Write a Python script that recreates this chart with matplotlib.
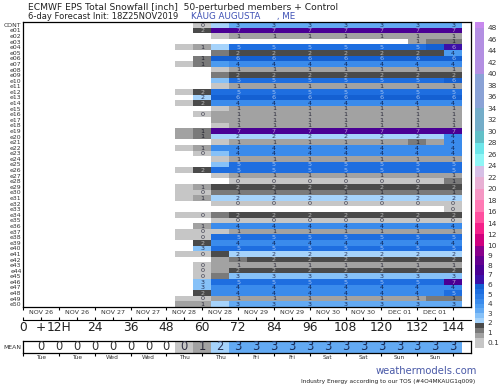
import numpy as np
import matplotlib
matplotlib.use("Agg")
import matplotlib.pyplot as plt
from matplotlib.colors import ListedColormap, BoundaryNorm

# ---------------- data ----------------
title1 = "ECMWF EPS Total Snowfall [inch]  50-perturbed members + Control"
title2 = "6-day Forecast Init: 18Z25NOV2019"
station = "KAUG AUGUSTA      , ME"

members = ["CONT"] + ["e%02d" % i for i in range(1, 51)]

# forecast hours of the columns that hold snow (6h..48h are all zero)
hours = [54, 60, 66, 72, 78, 84, 90, 96, 102, 108, 114, 120, 126, 132, 138, 144]

snow = [
    # 54   60   66   72   78   84   90   96  102  108  114  120  126  132  138  144
    [0.0, 0.4, 2.2, 3.2, 3.2, 3.2, 3.2, 3.2, 3.2, 3.2, 3.2, 3.2, 3.2, 3.2, 3.2, 3.2],  # CONT
    [0.0, 1.8, 7.2, 7.2, 7.2, 7.2, 7.2, 7.2, 7.2, 7.2, 7.2, 7.2, 7.2, 7.2, 7.2, 7.2],  # e01
    [0.0, 0.0, 0.3, 0.8, 0.8, 0.8, 0.8, 0.8, 0.8, 0.8, 0.8, 0.8, 0.8, 0.8, 0.8, 0.8],  # e02
    [0.0, 0.0, 0.0, 0.0, 0.0, 0.0, 0.0, 0.0, 0.0, 0.0, 0.0, 0.0, 0.0, 0.8, 1.2, 1.2],  # e03
    [0.3, 0.8, 2.2, 5.2, 5.2, 5.2, 5.2, 5.2, 5.2, 5.2, 5.2, 5.2, 5.2, 5.2, 5.8, 6.3],  # e04
    [0.0, 0.0, 1.2, 1.8, 1.8, 1.8, 1.8, 1.8, 1.8, 1.8, 1.8, 1.8, 1.8, 1.8, 1.8, 3.8],  # e05
    [0.0, 1.4, 5.8, 5.8, 5.8, 5.8, 5.8, 5.8, 5.8, 5.8, 5.8, 5.8, 5.8, 5.8, 5.8, 5.8],  # e06
    [0.3, 1.4, 3.8, 4.2, 4.2, 4.2, 4.2, 4.2, 4.2, 4.2, 4.2, 4.2, 4.2, 4.2, 4.2, 4.2],  # e07
    [0.0, 0.0, 0.3, 0.8, 0.8, 0.8, 0.8, 0.8, 0.8, 0.8, 0.8, 0.8, 0.8, 0.8, 0.8, 0.8],  # e08
    [0.0, 0.0, 1.2, 1.8, 1.8, 1.8, 1.8, 1.8, 1.8, 1.8, 1.8, 1.8, 1.8, 1.8, 1.8, 1.8],  # e09
    [0.0, 0.0, 2.7, 5.2, 5.2, 5.2, 5.2, 5.2, 5.2, 5.2, 5.2, 5.2, 5.2, 5.2, 5.2, 5.8],  # e10
    [0.0, 0.0, 0.3, 0.8, 0.8, 0.8, 0.8, 0.8, 0.8, 0.8, 0.8, 0.8, 0.8, 0.8, 0.8, 0.8],  # e11
    [0.3, 1.8, 5.2, 5.2, 5.2, 5.2, 5.2, 5.2, 5.2, 5.2, 5.2, 5.2, 5.2, 5.2, 5.2, 5.2],  # e12
    [0.0, 2.2, 5.8, 5.8, 5.8, 5.8, 5.8, 5.8, 5.8, 5.8, 5.8, 5.8, 5.8, 5.8, 5.8, 5.8],  # e13
    [0.3, 1.8, 4.2, 4.2, 4.2, 4.2, 4.2, 4.2, 4.2, 4.2, 4.2, 4.2, 4.2, 4.2, 4.2, 4.2],  # e14
    [0.0, 0.0, 0.3, 0.8, 0.8, 0.8, 0.8, 0.8, 0.8, 0.8, 0.8, 0.8, 0.8, 0.8, 0.8, 0.8],  # e15
    [0.0, 0.3, 0.8, 0.8, 0.8, 0.8, 0.8, 0.8, 0.8, 0.8, 0.8, 0.8, 0.8, 0.8, 0.8, 0.8],  # e16
    [0.0, 0.0, 0.8, 0.8, 0.8, 0.8, 0.8, 0.8, 0.8, 0.8, 0.8, 0.8, 0.8, 0.8, 0.8, 0.8],  # e17
    [0.0, 0.0, 0.3, 0.8, 0.8, 0.8, 0.8, 0.8, 0.8, 0.8, 0.8, 0.8, 0.8, 0.8, 0.8, 0.8],  # e18
    [0.8, 1.2, 7.2, 7.2, 7.2, 7.2, 7.2, 7.2, 7.2, 7.2, 7.2, 7.2, 7.2, 7.2, 7.2, 7.2],  # e19
    [0.8, 1.2, 2.2, 2.2, 2.2, 2.2, 2.2, 2.2, 2.2, 2.2, 2.2, 2.2, 2.2, 2.2, 2.2, 4.2],  # e20
    [0.0, 0.0, 0.3, 0.8, 0.8, 0.8, 0.8, 0.8, 0.8, 0.8, 0.8, 0.8, 0.8, 1.2, 0.8, 4.2],  # e21
    [0.3, 0.8, 4.2, 4.2, 4.2, 4.2, 4.2, 4.2, 4.2, 4.2, 4.2, 4.2, 4.2, 4.2, 4.2, 4.2],  # e22
    [0.0, 0.3, 2.7, 4.2, 4.2, 4.2, 4.2, 4.2, 4.2, 4.2, 4.2, 4.2, 4.2, 4.2, 4.2, 4.2],  # e23
    [0.0, 0.0, 0.3, 0.8, 0.8, 0.8, 0.8, 0.8, 0.8, 0.8, 0.8, 0.8, 0.8, 0.8, 0.8, 0.8],  # e24
    [0.0, 0.0, 2.7, 5.2, 5.2, 5.2, 5.2, 5.2, 5.2, 5.2, 5.2, 5.2, 5.2, 5.2, 5.2, 5.2],  # e25
    [0.3, 1.8, 5.2, 5.2, 5.2, 5.2, 5.2, 5.2, 5.2, 5.2, 5.2, 5.2, 5.2, 5.2, 5.2, 5.2],  # e26
    [0.0, 0.0, 0.3, 0.8, 0.8, 0.8, 0.8, 0.8, 0.8, 0.8, 0.8, 0.8, 0.8, 0.8, 0.8, 0.8],  # e27
    [0.0, 0.0, 0.0, 0.3, 0.3, 0.3, 0.3, 0.3, 0.3, 0.3, 0.3, 0.3, 0.3, 0.3, 0.3, 1.2],  # e28
    [0.3, 0.8, 1.8, 1.8, 1.8, 1.8, 1.8, 1.8, 1.8, 1.8, 1.8, 1.8, 1.8, 1.8, 1.8, 1.8],  # e29
    [0.3, 0.3, 1.2, 1.2, 1.2, 1.2, 1.2, 1.2, 1.2, 1.2, 1.2, 1.2, 1.2, 1.2, 1.2, 1.2],  # e30
    [0.3, 0.8, 2.2, 2.2, 2.2, 2.2, 2.2, 2.2, 2.2, 2.2, 2.2, 2.2, 2.2, 2.2, 2.2, 2.2],  # e31
    [0.0, 0.0, 0.3, 0.3, 0.3, 0.3, 0.3, 0.3, 0.3, 0.3, 0.3, 0.3, 0.3, 0.3, 0.3, 0.3],  # e32
    [0.0, 0.0, 0.0, 0.0, 0.0, 0.0, 0.0, 0.0, 0.0, 0.0, 0.0, 0.0, 0.0, 0.0, 0.0, 0.3],  # e33
    [0.3, 0.3, 1.2, 1.8, 1.8, 1.8, 1.8, 1.8, 1.8, 1.8, 1.8, 1.8, 1.8, 1.8, 1.8, 1.8],  # e34
    [0.0, 0.0, 0.3, 0.3, 0.3, 0.3, 0.3, 0.3, 0.3, 0.3, 0.3, 0.3, 0.3, 0.3, 0.3, 0.3],  # e35
    [0.0, 0.8, 4.2, 4.2, 4.2, 4.2, 4.2, 4.2, 4.2, 4.2, 4.2, 4.2, 4.2, 4.2, 4.2, 4.2],  # e36
    [0.3, 0.3, 0.3, 0.8, 0.8, 0.8, 0.8, 0.8, 0.8, 0.8, 0.8, 0.8, 0.8, 0.8, 0.8, 0.8],  # e37
    [0.3, 0.3, 5.2, 5.2, 5.2, 5.2, 5.2, 5.2, 5.2, 5.2, 5.2, 5.2, 5.2, 5.2, 5.2, 5.2],  # e38
    [0.0, 1.8, 4.2, 4.2, 4.2, 4.2, 4.2, 4.2, 4.2, 4.2, 4.2, 4.2, 4.2, 4.2, 4.2, 4.2],  # e39
    [0.0, 2.7, 5.2, 5.2, 5.2, 5.2, 5.2, 5.2, 5.2, 5.2, 5.2, 5.2, 5.2, 5.2, 5.2, 5.2],  # e40
    [0.3, 0.3, 1.8, 2.2, 2.2, 2.2, 2.2, 2.2, 2.2, 2.2, 2.2, 2.2, 2.2, 2.2, 2.2, 2.2],  # e41
    [0.0, 0.0, 0.8, 1.2, 1.8, 1.8, 1.8, 1.8, 1.8, 1.8, 1.8, 1.8, 1.8, 1.8, 1.8, 1.8],  # e42
    [0.0, 0.3, 0.8, 0.8, 0.8, 0.8, 0.8, 0.8, 0.8, 0.8, 0.8, 0.8, 0.8, 0.8, 0.8, 0.8],  # e43
    [0.0, 0.3, 0.8, 1.8, 1.8, 1.8, 1.8, 1.8, 1.8, 1.8, 1.8, 1.8, 1.8, 1.8, 1.8, 1.8],  # e44
    [0.0, 0.3, 1.2, 2.7, 2.7, 2.7, 2.7, 2.7, 2.7, 2.7, 2.7, 2.7, 2.7, 2.7, 2.7, 2.7],  # e45
    [0.0, 2.7, 5.2, 5.2, 5.2, 5.2, 5.2, 5.2, 5.2, 5.2, 5.2, 5.2, 5.2, 5.2, 5.2, 7.2],  # e46
    [0.0, 2.7, 4.2, 4.2, 4.2, 4.2, 4.2, 4.2, 4.2, 4.2, 4.2, 4.2, 4.2, 4.2, 4.2, 4.2],  # e47
    [0.0, 1.8, 4.2, 4.2, 4.2, 4.2, 4.2, 4.2, 4.2, 4.2, 4.2, 4.2, 4.2, 4.2, 4.2, 5.2],  # e48
    [0.3, 0.3, 0.8, 0.8, 0.8, 0.8, 0.8, 0.8, 0.8, 0.8, 0.8, 0.8, 0.8, 0.8, 1.2, 1.2],  # e49
    [0.8, 0.8, 2.2, 3.2, 3.2, 3.2, 3.2, 3.2, 3.2, 3.2, 3.2, 3.2, 3.2, 3.2, 3.2, 3.2],  # e50
]

mean_hours = [6, 12, 18, 24, 30, 36, 42, 48, 54, 60, 66, 72, 78, 84, 90, 96,
              102, 108, 114, 120, 126, 132, 138, 144]
mean_vals = [0, 0, 0, 0, 0, 0, 0, 0, 0.3, 0.8, 2.2, 3.2, 3.2, 3.2, 3.2, 3.2,
             3.2, 3.2, 3.2, 3.2, 3.2, 3.2, 3.2, 3.2]

date_labels = ["NOV 26", "NOV 26", "NOV 27", "NOV 27", "NOV 28", "NOV 28",
               "NOV 29", "NOV 29", "NOV 30", "NOV 30", "DEC 01", "DEC 01"]
day_labels = ["Tue", "Tue", "Wed", "Wed", "Thu", "Thu",
              "Fri", "Fri", "Sat", "Sat", "Sun", "Sun"]
hour_labels = ["0", "+", "12H", "", "24", "", "36", "", "48", "", "60", "", "72", "",
               "84", "", "96", "", "108", "", "120", "", "132", "", "144"]

levels = [0.1, 0.5, 1, 1.5, 2, 2.5, 3, 3.5, 4, 4.5, 5, 5.5, 6, 7, 8, 9, 10,
          12, 14, 16, 18, 20, 22, 24, 26, 28, 30, 34, 40, 48, 50]
colors = ["#c6c6c6", "#a2a2a2", "#7a7a7a", "#4a4a4a",
          "#a6d3fb", "#86c1f8", "#63aaf3", "#4b9bf0", "#3a8bec", "#2c7ce6", "#1e6ee0", "#1460d2",
          "#3c10a8", "#4a0094", "#640090", "#8a008c",
          "#d0007e", "#f5208a", "#ff4f9f", "#ff7ab4", "#f597c4", "#e8b0d4", "#d6c0e6",
          "#8ff6f6", "#6de6ea", "#62c0c8",
          "#74adc9", "#8aa2d6", "#b38fe2", "#c889ee"]
cbar_ticks = [0.1, 1, 2, 3, 4, 5, 6, 7, 8, 9, 10, 12, 14, 16, 18, 20, 22, 24, 26,
              28, 30, 32, 34, 36, 38, 40, 42, 44, 46, 48]

# ---------------- helpers ----------------
cmap = ListedColormap(colors)
norm = BoundaryNorm(levels, cmap.N)
W, H = 500.0, 385.0


def rect(x0, y0, x1, y1):
    return [x0 / W, 1 - y1 / H, (x1 - x0) / W, (y1 - y0) / H]


def text_color(v):
    r, g, b = cmap(norm(v))[:3]
    lum = 0.299 * r + 0.587 * g + 0.114 * b
    if lum < 0.45:
        return (r + (1 - r) * 0.6, g + (1 - g) * 0.6, b + (1 - b) * 0.6)
    return (r * 0.25, g * 0.25, b * 0.35)


def label_of(v):
    return str(int(np.floor(v + 0.5)))


fig = plt.figure(figsize=(5, 3.85), dpi=100)

# ---------------- main grid ----------------
ax = fig.add_axes(rect(23, 22, 471, 307))
data = np.ma.masked_less(np.array(snow, dtype=float), 0.1)
xe = np.concatenate([np.array(hours) - 3, [hours[-1] + 3]])
ye = np.arange(len(members) + 1)
ax.pcolormesh(xe, ye, data, cmap=cmap, norm=norm)
ax.set_xlim(0, 150)
ax.set_ylim(len(members), 0)
for i, row in enumerate(snow):
    for h, v in zip(hours, row):
        if h % 12 == 0 and v >= 0.1:
            ax.text(h, i + 0.55, label_of(v), ha="center", va="center",
                    fontsize=4.6, color=text_color(v))
ax.set_yticks(np.arange(len(members)) + 0.5)
ax.set_yticklabels(members, fontsize=4.4, color="#333333")
ax.tick_params(axis="y", length=0, pad=1)
ax.set_xticks(np.arange(0, 145, 12))
ax.set_xticklabels([])
ax.set_xticks(np.arange(6, 139, 12), minor=True)
ax.set_xticklabels(date_labels, minor=True, fontsize=4.6, color="#333333")
ax.tick_params(axis="x", which="major", length=2.5, width=0.8, direction="out")
ax.tick_params(axis="x", which="minor", length=0, pad=2)
for s in ax.spines.values():
    s.set_linewidth(0.9)

# ---------------- hour axis ----------------
axh = fig.add_axes(rect(23, 314, 471, 320))
axh.set_xlim(0, 150)
axh.set_ylim(0, 1)
axh.set_yticks([])
for k in ["top", "left", "right"]:
    axh.spines[k].set_visible(False)
axh.spines["bottom"].set_linewidth(0.8)
axh.set_xticks(np.arange(0, 145, 6))
axh.set_xticklabels(hour_labels, fontsize=8.8, color="#222222")
axh.tick_params(axis="x", direction="in", length=2.5, width=0.8, pad=1)
axh.patch.set_alpha(0)

# ---------------- mean row ----------------
axm = fig.add_axes(rect(23, 341, 471, 353))
mdata = np.ma.masked_less(np.array([mean_vals], dtype=float), 0.1)
mxe = np.concatenate([np.array(mean_hours) - 3, [mean_hours[-1] + 3]])
axm.pcolormesh(mxe, [0, 1], mdata, cmap=cmap, norm=norm)
axm.set_xlim(0, 150)
axm.set_ylim(0, 1)
for h, v in zip(mean_hours, mean_vals):
    c = text_color(v) if v >= 0.1 else "#333333"
    axm.text(h, 0.5, label_of(v), ha="center", va="center", fontsize=8.3, color=c)
axm.set_yticks([0.5])
axm.set_yticklabels(["MEAN"], fontsize=4.4, color="#333333")
axm.tick_params(axis="y", length=0, pad=1)
axm.set_xticks(np.arange(0, 145, 12))
axm.set_xticklabels([])
axm.set_xticks(np.arange(6, 139, 12), minor=True)
axm.set_xticklabels(day_labels, minor=True, fontsize=4.2, color="#333333")
axm.tick_params(axis="x", which="major", length=2, width=0.8)
axm.tick_params(axis="x", which="minor", length=0, pad=1.5)
for s in axm.spines.values():
    s.set_linewidth(0.9)

# ---------------- colour bar ----------------
axc = fig.add_axes(rect(475, 22, 484, 348))
tick_pos = np.concatenate([0.018 + np.arange(11) * (0.313 - 0.018) / 10,
                           0.313 + np.arange(1, 20) * (0.982 - 0.313) / 19])
edges = np.interp(levels, cbar_ticks, tick_pos)
edges[0] = 0.0
edges[-1] = 1.0
axc.bar(np.zeros(len(colors)), np.diff(edges), bottom=edges[:-1], width=1.0,
        color=colors, align="center", linewidth=0)
axc.set_xlim(-0.5, 0.5)
axc.set_ylim(0, 1)
axc.set_xticks([])
axc.yaxis.tick_right()
axc.set_yticks(tick_pos)
axc.set_yticklabels([("%g" % t) for t in cbar_ticks], fontsize=5.3, color="#333333")
axc.tick_params(axis="y", length=0, pad=2.5)
for s in axc.spines.values():
    s.set_visible(False)

# ---------------- texts ----------------
fig.text(28 / W, 1 - 7.5 / H, title1, fontsize=6.6, color="#222222", va="center")
fig.text(28 / W, 1 - 16.5 / H, title2, fontsize=6.0, color="#222222", va="center")
fig.text(191 / W, 1 - 16.5 / H, station, fontsize=6.3, color="#3f51b5", va="center")
fig.text(477 / W, 1 - 371 / H, "weathermodels.com", fontsize=7.2, color="#4a5aa8",
         ha="right", va="center")
fig.text(475 / W, 1 - 381 / H, "Industry Energy according to our TOS (#4O4MKAUG1q009)",
         fontsize=4.2, color="#222222", ha="right", va="center")

fig.savefig("out.png", dpi=100)
